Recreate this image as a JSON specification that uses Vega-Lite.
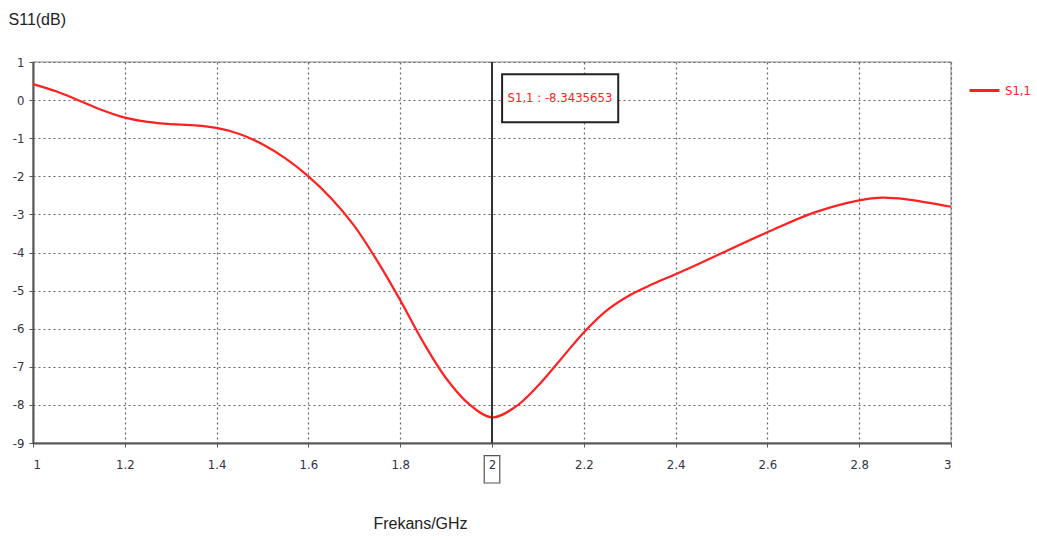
{
  "$schema": "https://vega.github.io/schema/vega-lite/v6.json",
  "width": 918,
  "height": 381,
  "autosize": "none",
  "padding": {"left": 33, "top": 62, "right": 86, "bottom": 97},
  "background": "white",
  "config": {
    "view": {"stroke": "#b0b0b0", "strokeWidth": 1.5},
    "font": "Liberation Sans"
  },
  "datasets": {
    "curve": [
      {"f": 1.0, "s": 0.42, "series": "S1,1"},
      {"f": 1.05, "s": 0.23, "series": "S1,1"},
      {"f": 1.1, "s": -0.01, "series": "S1,1"},
      {"f": 1.15, "s": -0.26, "series": "S1,1"},
      {"f": 1.2, "s": -0.46, "series": "S1,1"},
      {"f": 1.25, "s": -0.57, "series": "S1,1"},
      {"f": 1.3, "s": -0.63, "series": "S1,1"},
      {"f": 1.35, "s": -0.66, "series": "S1,1"},
      {"f": 1.4, "s": -0.73, "series": "S1,1"},
      {"f": 1.45, "s": -0.89, "series": "S1,1"},
      {"f": 1.5, "s": -1.16, "series": "S1,1"},
      {"f": 1.55, "s": -1.53, "series": "S1,1"},
      {"f": 1.6, "s": -2.0, "series": "S1,1"},
      {"f": 1.65, "s": -2.58, "series": "S1,1"},
      {"f": 1.7, "s": -3.3, "series": "S1,1"},
      {"f": 1.75, "s": -4.22, "series": "S1,1"},
      {"f": 1.8, "s": -5.25, "series": "S1,1"},
      {"f": 1.85, "s": -6.35, "series": "S1,1"},
      {"f": 1.9, "s": -7.3, "series": "S1,1"},
      {"f": 1.95, "s": -7.98, "series": "S1,1"},
      {"f": 2.0, "s": -8.33, "series": "S1,1"},
      {"f": 2.05, "s": -8.06, "series": "S1,1"},
      {"f": 2.1, "s": -7.5, "series": "S1,1"},
      {"f": 2.15, "s": -6.8, "series": "S1,1"},
      {"f": 2.2, "s": -6.1, "series": "S1,1"},
      {"f": 2.25, "s": -5.52, "series": "S1,1"},
      {"f": 2.3, "s": -5.12, "series": "S1,1"},
      {"f": 2.35, "s": -4.83, "series": "S1,1"},
      {"f": 2.4, "s": -4.57, "series": "S1,1"},
      {"f": 2.45, "s": -4.3, "series": "S1,1"},
      {"f": 2.5, "s": -4.02, "series": "S1,1"},
      {"f": 2.6, "s": -3.47, "series": "S1,1"},
      {"f": 2.7, "s": -2.96, "series": "S1,1"},
      {"f": 2.8, "s": -2.63, "series": "S1,1"},
      {"f": 2.85, "s": -2.56, "series": "S1,1"},
      {"f": 2.9, "s": -2.6, "series": "S1,1"},
      {"f": 3.0, "s": -2.8, "series": "S1,1"}
    ],
    "marker": [{"f": 2.0, "label": "S1,1 : -8.3435653", "x1": 2.022, "x2": 2.275, "y1": 0.68, "y2": -0.58, "ty": 0.05, "tx": 2.148}],
    "tickbox": [{"x1": 1.983, "x2": 2.017, "y1": -9.33, "y2": -10.05}]
  },
  "encoding": {
    "x": {
      "type": "quantitative",
      "scale": {"domain": [1, 3], "nice": false, "zero": false},
      "axis": {
        "values": [1, 1.2, 1.4, 1.6, 1.8, 2, 2.2, 2.4, 2.6, 2.8, 3],
        "format": ".1~f",
        "title": "Frekans/GHz",
        "titleFont": "Liberation Sans",
        "titleFontSize": 16,
        "titleFontWeight": "normal",
        "titleColor": "#222",
        "titleAnchor": "start",
        "titleAlign": "center",
        "titleBaseline": "middle",
        "titleX": 387,
        "titleY": 80,
        "labelFont": "DejaVu Sans Condensed",
        "labelFontSize": 13,
        "labelColor": "#334",
        "labelPadding": 11,
        "domainColor": "#555",
        "domainWidth": 2,
        "tickColor": "#555",
        "tickSize": 4,
        "grid": true,
        "gridColor": "#666",
        "gridDash": [2, 3],
        "gridWidth": 1.2
      }
    },
    "y": {
      "type": "quantitative",
      "scale": {"domain": [-9, 1], "nice": false, "zero": false},
      "axis": {
        "values": [-9, -8, -7, -6, -5, -4, -3, -2, -1, 0, 1],
        "labelExpr": "toString(datum.value)",
        "title": "S11(dB)",
        "titleAngle": 0,
        "titleAlign": "left",
        "titleBaseline": "alphabetic",
        "titleX": -25,
        "titleY": -38,
        "titleFont": "Liberation Sans",
        "titleFontSize": 16,
        "titleFontWeight": "normal",
        "titleColor": "#222",
        "labelFont": "DejaVu Sans Condensed",
        "labelFontSize": 13,
        "labelColor": "#334",
        "labelPadding": 5,
        "domainColor": "#555",
        "domainWidth": 2,
        "tickColor": "#555",
        "tickSize": 4,
        "grid": true,
        "gridColor": "#666",
        "gridDash": [2, 3],
        "gridWidth": 1.2
      }
    }
  },
  "layer": [
    {
      "data": {"name": "curve"},
      "mark": {"type": "line", "interpolate": "catmull-rom", "strokeWidth": 2.2},
      "encoding": {
        "x": {"field": "f", "type": "quantitative"},
        "y": {"field": "s", "type": "quantitative"},
        "color": {
          "field": "series",
          "type": "nominal",
          "scale": {"range": ["#ff2020"]},
          "legend": {
            "title": null,
            "orient": "none",
            "legendX": 935,
            "legendY": 12,
            "symbolType": "stroke",
            "symbolStrokeWidth": 3,
            "symbolSize": 900,
            "labelFont": "DejaVu Sans Condensed",
            "labelFontSize": 13,
            "labelColor": "#ff2020"
          }
        }
      }
    },
    {
      "data": {"name": "marker"},
      "mark": {"type": "rule", "color": "#333", "strokeWidth": 2},
      "encoding": {"x": {"field": "f", "type": "quantitative"}}
    },
    {
      "data": {"name": "marker"},
      "mark": {"type": "rect", "fill": "white", "stroke": "#222", "strokeWidth": 2},
      "encoding": {
        "x": {"field": "x1", "type": "quantitative"},
        "x2": {"field": "x2"},
        "y": {"field": "y1", "type": "quantitative"},
        "y2": {"field": "y2"}
      }
    },
    {
      "data": {"name": "marker"},
      "mark": {"type": "text", "color": "#ff2020", "font": "DejaVu Sans Condensed", "fontSize": 13, "align": "center", "baseline": "middle"},
      "encoding": {
        "x": {"field": "tx", "type": "quantitative"},
        "y": {"field": "ty", "type": "quantitative"},
        "text": {"field": "label"}
      }
    },
    {
      "data": {"name": "tickbox"},
      "mark": {"type": "rect", "fill": null, "stroke": "#555", "strokeWidth": 1.2, "clip": false},
      "encoding": {
        "x": {"field": "x1", "type": "quantitative"},
        "x2": {"field": "x2"},
        "y": {"field": "y1", "type": "quantitative"},
        "y2": {"field": "y2"}
      }
    }
  ]
}
